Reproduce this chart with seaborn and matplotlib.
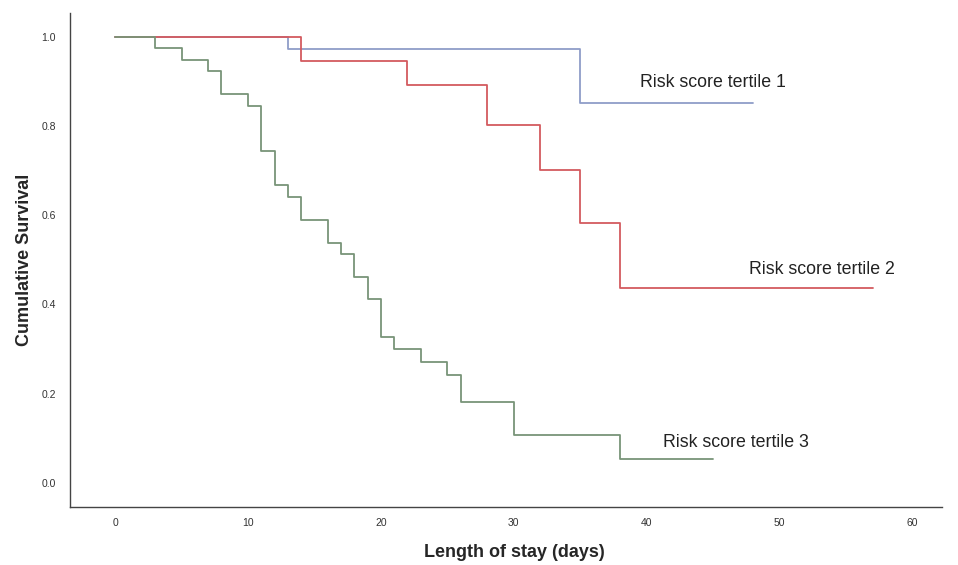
import pandas as pd
import matplotlib
matplotlib.use("Agg")
import matplotlib.pyplot as plt
import seaborn as sns

# Kaplan-Meier step values
t1_days = [0, 13, 35, 48]
t1_surv = [1.0, 0.974, 0.853, 0.853]

t2_days = [0, 14, 22, 28, 32, 35, 38, 57]
t2_surv = [1.0, 0.946, 0.892, 0.803, 0.702, 0.583, 0.437, 0.437]

t3_days = [0, 3, 5, 7, 8, 10, 11, 12, 13, 14, 16, 17, 18, 19, 20, 21, 23, 25, 26, 30, 38, 45]
t3_surv = [1.0, 0.975, 0.949, 0.924, 0.873, 0.846, 0.744, 0.667, 0.641, 0.590, 0.539,
           0.513, 0.462, 0.412, 0.328, 0.300, 0.271, 0.241, 0.181, 0.108, 0.054, 0.054]

groups = ['Risk score tertile 1', 'Risk score tertile 2', 'Risk score tertile 3']
colors = ['#8f9dc8', '#d35a5f', '#789478']

df = pd.concat([
    pd.DataFrame({'Days': t1_days, 'Survival': t1_surv, 'Group': groups[0]}),
    pd.DataFrame({'Days': t2_days, 'Survival': t2_surv, 'Group': groups[1]}),
    pd.DataFrame({'Days': t3_days, 'Survival': t3_surv, 'Group': groups[2]}),
], ignore_index=True)

sns.set_theme(style="white")
plt.rcParams['font.family'] = ['Liberation Sans', 'DejaVu Sans']

fig = plt.figure(figsize=(9.58, 5.65), dpi=100)
ax = fig.add_axes([0.073, 0.103, 0.910, 0.874])

sns.lineplot(data=df, x='Days', y='Survival', hue='Group', palette=colors,
             estimator=None, sort=False, drawstyle='steps-post', linewidth=1.3,
             legend=False, ax=ax)

# curve labels placed at the right end of each curve
ax.text(39.5, 0.897, groups[0], fontsize=12.8, color='#222222', va='center')
ax.text(47.7, 0.478, groups[1], fontsize=12.8, color='#222222', va='center')
ax.text(41.2, 0.090, groups[2], fontsize=12.8, color='#222222', va='center')

ax.set_xlim(-3.4, 62.2)
ax.set_ylim(-0.054, 1.054)
ax.set_xticks(range(0, 61, 10))
ax.set_yticks([0.0, 0.2, 0.4, 0.6, 0.8, 1.0])
ax.set_yticklabels(['0.0', '0.2', '0.4', '0.6', '0.8', '1.0'])
ax.tick_params(axis='both', length=0, labelsize=7.5, colors='#333333')
ax.tick_params(axis='x', pad=8)
ax.tick_params(axis='y', pad=10)

ax.set_xlabel('Length of stay (days)', fontsize=13, fontweight='bold')
ax.set_ylabel('Cumulative Survival', fontsize=13, fontweight='bold')
ax.xaxis.set_label_coords(0.51, -0.093)
ax.yaxis.set_label_coords(-0.052, 0.5)
ax.xaxis.label.set_va('center')
ax.yaxis.label.set_va('center')

sns.despine(ax=ax)
for s in ['left', 'bottom']:
    ax.spines[s].set_color('#444444')
    ax.spines[s].set_linewidth(1.0)

fig.savefig('out.png', dpi=100)
